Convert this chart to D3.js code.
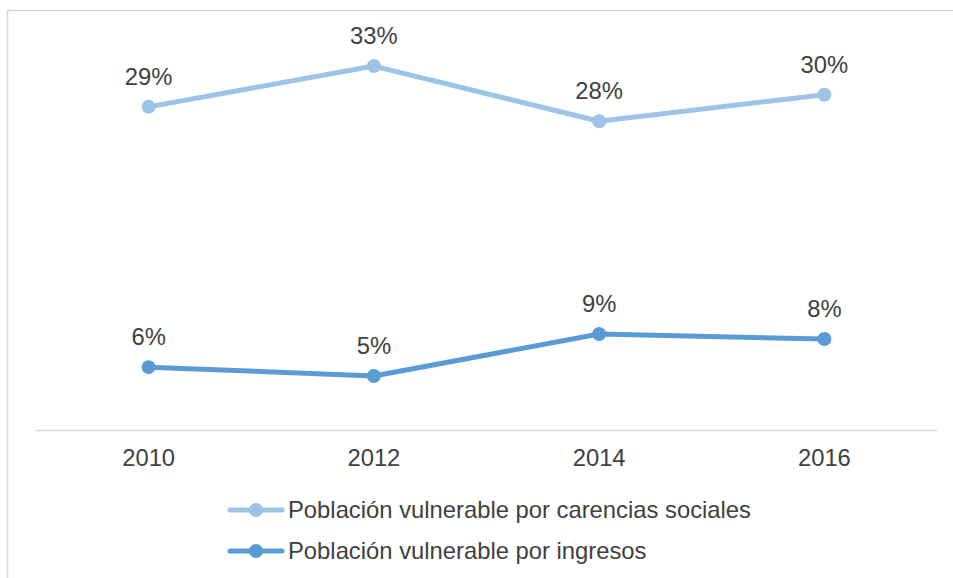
<!DOCTYPE html>
<html lang="es">
  <head>
    <meta charset="UTF-8" />
    <title>Población vulnerable</title>
    <script src="https://d3js.org/d3.v7.min.js"></script>
    <style>
      body {
        margin: 0;
        padding: 0;
        background: #fff;
        font-family: "Liberation Sans", Arial, sans-serif;
      }
      svg {
        display: block;
      }
    </style>
  </head>
  <body>
    <svg width="953" height="578"></svg>
    <script>
      const years = ["2010", "2012", "2014", "2016"];
      const carencias = [29.3, 33.0, 28.0, 30.4];
      const ingresos = [5.7, 4.9, 8.7, 8.25];
      const seriesNames = [
        "Población vulnerable por carencias sociales",
        "Población vulnerable por ingresos",
      ];
      const seriesColors = ["#9dc3e6", "#5b9bd5"];

      const width = 953;
      const height = 578;
      const textColor = "#404040";
      const fontSize = 23.8;

      const svg = d3.select("svg");

      // chart frame
      svg
        .append("rect")
        .attr("x", 7.5)
        .attr("y", 10.5)
        .attr("width", 960)
        .attr("height", 600)
        .attr("fill", "none")
        .attr("stroke", "#d9d9d9")
        .attr("stroke-width", 1.5);

      const x = d3.scaleBand().domain(years).range([36, 937]);
      const y = d3.scaleLinear().domain([0, 35]).range([430, 44]);

      const xAxis = svg
        .append("g")
        .attr("transform", "translate(0,430)")
        .call(d3.axisBottom(x).tickSize(0).tickPadding(19));
      xAxis.select(".domain").attr("stroke", "#d9d9d9").attr("stroke-width", 1.5);
      xAxis
        .selectAll("text")
        .attr("font-family", "Liberation Sans, Arial, sans-serif")
        .attr("font-size", fontSize)
        .attr("fill", textColor);

      const series = [carencias, ingresos];
      const line = d3
        .line()
        .x((d, i) => x(years[i]) + x.bandwidth() / 2)
        .y((d) => y(d));

      series.forEach((vals, s) => {
        const g = svg.append("g");
        g.append("path")
          .datum(vals)
          .attr("d", line)
          .attr("fill", "none")
          .attr("stroke", seriesColors[s])
          .attr("stroke-width", 5)
          .attr("stroke-linejoin", "round")
          .attr("stroke-linecap", "round");
        g.selectAll("circle")
          .data(vals)
          .join("circle")
          .attr("cx", (d, i) => x(years[i]) + x.bandwidth() / 2)
          .attr("cy", (d) => y(d))
          .attr("r", 7)
          .attr("fill", seriesColors[s]);
        g.selectAll("text")
          .data(vals)
          .join("text")
          .attr("x", (d, i) => x(years[i]) + x.bandwidth() / 2)
          .attr("y", (d) => y(d) - 22)
          .attr("text-anchor", "middle")
          .attr("font-size", fontSize)
          .attr("fill", textColor)
          .text((d) => Math.round(d) + "%");
      });

      // legend
      const legend = svg
        .selectAll("g.legend")
        .data(seriesNames)
        .join("g")
        .attr("class", "legend")
        .attr("transform", (d, i) => `translate(228,${510 + i * 41})`);
      legend
        .append("line")
        .attr("x1", 2)
        .attr("x2", 54)
        .attr("stroke", (d, i) => seriesColors[i])
        .attr("stroke-width", 5)
        .attr("stroke-linecap", "round");
      legend
        .append("circle")
        .attr("cx", 28)
        .attr("r", 7)
        .attr("fill", (d, i) => seriesColors[i]);
      legend
        .append("text")
        .attr("x", 60)
        .attr("dy", "0.35em")
        .attr("font-size", fontSize)
        .attr("fill", textColor)
        .text((d) => d);
    </script>
  </body>
</html>
